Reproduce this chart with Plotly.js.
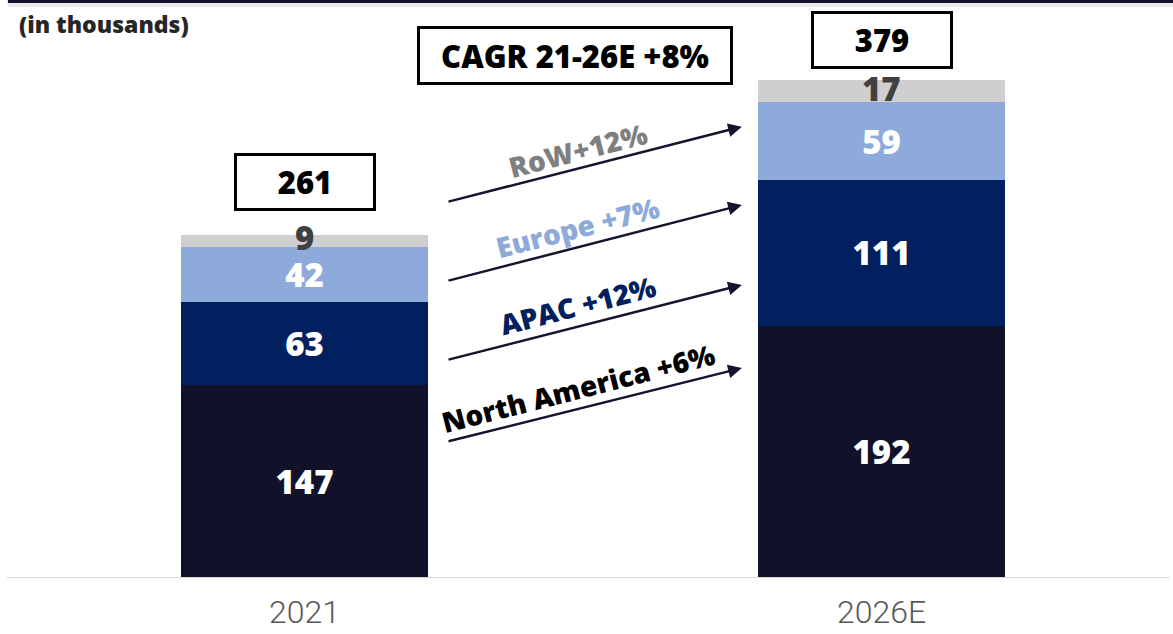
<!DOCTYPE html>
<html>
<head>
<meta charset="utf-8">
<script src="https://cdn.plot.ly/plotly-3.0.1.min.js"></script>
<style>
  html, body { margin: 0; padding: 0; background: #ffffff; }
  #chart { width: 1173px; height: 634px; }
</style>
</head>
<body>
<div id="chart"></div>
<script>
// ------------------------------------------------------------------------------
// DATA

const categories    = ['2021', '2026E'];
const north_america = [147, 192];
const apac          = [63, 111];
const europe        = [42, 59];
const row           = [9, 17];
const totals        = [261, 379];

const growth_labels = ['RoW+12%', 'Europe +7%', 'APAC +12%', 'North America +6%'];
const cagr_label    = 'CAGR 21-26E +8%';
const unit_label    = '(in thousands)';

// ------------------------------------------------------------------------------
// STYLE

const bold_font  = '"Open Sans", "DejaVu Sans", sans-serif';
const axis_font  = 'Roboto, "Liberation Sans", sans-serif';
const c_na       = '#111129';
const c_apac     = '#002060';
const c_europe   = '#8eaadb';
const c_row      = '#d0cece';
const c_arrow    = '#14142e';
const bar_width  = 0.428;

const label_colors = ['#7f7f7f', c_europe, c_apac, '#000000'];

function barTrace(name, values, color, showText) {
    return {
        type: 'bar',
        name: name,
        x: categories,
        y: values,
        width: bar_width,
        marker: { color: color, line: { width: 0 } },
        text: showText ? values.map(String) : null,
        textposition: showText ? 'inside' : 'none',
        insidetextanchor: 'middle',
        textangle: 0,
        textfont: { family: bold_font, size: 33, color: '#ffffff', weight: 800 },
        hoverinfo: 'none',
        showlegend: false
    };
}

const traces = [
    barTrace('North America', north_america, c_na, true),
    barTrace('APAC', apac, c_apac, true),
    barTrace('Europe', europe, c_europe, true),
    barTrace('RoW', row, c_row, false)
];

// ------------------------------------------------------------------------------
// ANNOTATIONS
// (category axis: annotations are placed by category index, '2021' would be read as a number)

const annotations = [];

// RoW values sit on top of the thin grey segment
categories.forEach((cat, i) => {
    const base = north_america[i] + apac[i] + europe[i];
    annotations.push({
        x: i, y: base + row[i] / 2,
        xref: 'x', yref: 'y',
        text: String(row[i]),
        showarrow: false,
        yanchor: 'middle',
        yshift: 3,
        font: { family: bold_font, size: 33, color: '#404040', weight: 800 }
    });
});

// total boxes
const total_shift = [24, 11];
categories.forEach((cat, i) => {
    annotations.push({
        x: i, y: totals[i],
        xref: 'x', yref: 'y',
        text: String(totals[i]),
        showarrow: false,
        yanchor: 'bottom',
        yshift: total_shift[i],
        width: 128, height: 44,
        borderpad: 4,
        bordercolor: '#000000',
        borderwidth: 3,
        bgcolor: '#ffffff',
        font: { family: bold_font, size: 31, color: '#000000', weight: 800 }
    });
});

// CAGR box
annotations.push({
    x: 0.4844, y: 0.904,
    xref: 'paper', yref: 'paper',
    xanchor: 'center', yanchor: 'middle',
    text: cagr_label,
    showarrow: false,
    width: 302, height: 45,
    borderpad: 4,
    bordercolor: '#000000',
    borderwidth: 3,
    bgcolor: '#ffffff',
    font: { family: bold_font, size: 31, color: '#000000', weight: 800 }
});

// unit label
annotations.push({
    x: 0.001, y: 0.958,
    xref: 'paper', yref: 'paper',
    xanchor: 'left', yanchor: 'middle',
    text: unit_label,
    showarrow: false,
    font: { family: bold_font, size: 23, color: '#262626', weight: 800 }
});

// growth arrows (tip / tail in axis units)
const arrow_tip_y  = [343.4, 283.8, 223.0, 159.8];
const arrow_tail_y = [286.1, 226.0, 165.9, 103.7];
const label_y      = [325.7, 267.1, 207.7, 144.6];

growth_labels.forEach((lab, i) => {
    annotations.push({
        x: 0.758, y: arrow_tip_y[i],
        ax: 0.247, ay: arrow_tail_y[i],
        xref: 'x', yref: 'y', axref: 'x', ayref: 'y',
        text: '',
        showarrow: true,
        arrowhead: 2,
        arrowsize: 1.1,
        arrowwidth: 2.5,
        arrowcolor: c_arrow
    });
    annotations.push({
        x: 0.474, y: label_y[i],
        xref: 'x', yref: 'y',
        text: lab,
        showarrow: false,
        textangle: -14.3,
        xanchor: 'center', yanchor: 'middle',
        font: { family: bold_font, size: 28, color: label_colors[i], weight: 800 }
    });
});

// ------------------------------------------------------------------------------
// LAYOUT

const layout = {
    width: 1173,
    height: 634,
    barmode: 'stack',
    paper_bgcolor: '#ffffff',
    plot_bgcolor: '#ffffff',
    margin: { l: 16, r: 3, t: 0, b: 56 },
    xaxis: {
        type: 'category',
        range: [-0.5, 1.5],
        showgrid: false,
        zeroline: false,
        showline: false,
        ticks: '',
        tickfont: { family: axis_font, size: 32, color: '#595959', weight: 300 },
        ticklabelstandoff: 12
    },
    yaxis: {
        range: [0, 439.8],
        visible: false,
        showgrid: false,
        zeroline: false
    },
    shapes: [
        // top banner line
        {
            type: 'rect', xref: 'paper', yref: 'paper',
            x0: -0.007, x1: 1.003, y0: 0.9948, y1: 1.0,
            fillcolor: c_na, line: { width: 0 }
        },
        {
            type: 'rect', xref: 'paper', yref: 'paper',
            x0: -0.007, x1: 1.003, y0: 0.988, y1: 0.9948,
            fillcolor: '#bfbfbf', opacity: 0.35, line: { width: 0 }
        },
        // baseline
        {
            type: 'line', xref: 'paper', yref: 'y',
            x0: -0.008, x1: 1.0, y0: 0, y1: 0,
            line: { color: '#d9d9d9', width: 2 }
        }
    ],
    annotations: annotations
};

Plotly.newPlot('chart', traces, layout, { displayModeBar: false, staticPlot: true });
</script>
</body>
</html>
